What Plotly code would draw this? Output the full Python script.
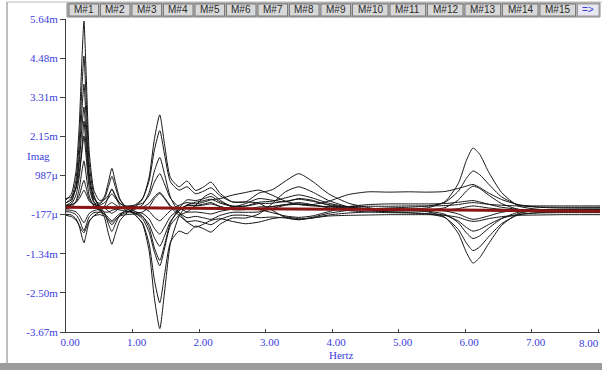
import plotly.graph_objects as go

# Frequency grid (Hz) shared by all response curves
freq = [0.00, 0.08, 0.15, 0.20, 0.24, 0.27, 0.30, 0.35, 0.42, 0.50,
        0.58, 0.64, 0.69, 0.74, 0.81, 0.90, 1.02, 1.15, 1.25, 1.33,
        1.41, 1.48, 1.57, 1.70, 1.82, 1.95, 2.08, 2.18, 2.32, 2.50,
        2.70, 2.90, 3.10, 3.30, 3.50, 3.70, 3.95, 4.25, 4.55, 4.85,
        5.15, 5.45, 5.70, 5.90, 6.02, 6.12, 6.22, 6.35, 6.55, 6.80,
        7.10, 7.45, 7.75, 8.03]

# Imaginary part of each measured FRF, in units of 1e-3
resp_01 = [0.26, 0.43, 1.10, 2.50, 4.46, 5.58, 4.18, 1.66, 0.54, 0.25,
           0.27, 0.40, 0.58, 0.40, 0.16, 0.04, -0.14, -0.45, -1.26, -2.68,
           -3.57, -2.51, -1.04, -0.23, 0.11, 0.19, 0.24, 0.28, 0.16, 0.07,
           0.07, 0.15, 0.16, 0.22, 0.28, 0.22, 0.12, 0.04, 0.00, -0.02,
           -0.05, -0.10, -0.26, -0.74, -1.30, -1.62, -1.46, -1.06, -0.50, -0.15,
           -0.05, -0.03, -0.02, -0.02]
resp_02 = [0.17, 0.31, 0.86, 2.01, 3.62, 4.54, 3.39, 1.32, 0.40, 0.04,
           -0.27, -0.76, -1.06, -0.76, -0.36, -0.16, 0.01, 0.28, 0.94, 2.08,
           2.79, 1.94, 0.92, 0.65, 0.82, 0.54, 0.66, 0.79, 0.45, 0.20,
           0.20, 0.46, 0.56, 0.82, 1.04, 0.82, 0.44, 0.16, 0.03, -0.06,
           -0.02, 0.03, 0.21, 0.75, 1.43, 1.80, 1.62, 1.11, 0.48, 0.08,
           -0.02, -0.05, -0.06, -0.06]
resp_03 = [0.09, 0.20, 0.66, 1.61, 2.94, 3.70, 2.75, 1.04, 0.28, 0.16,
           0.37, 0.81, 1.20, 0.81, 0.29, 0.03, -0.16, -0.42, -1.05, -2.13,
           -2.80, -1.99, -1.00, -0.67, -0.75, -0.52, -0.61, -0.70, -0.46, -0.28,
           -0.28, -0.16, 0.15, 0.50, 0.65, 0.50, 0.24, 0.05, -0.04, -0.10,
           -0.12, -0.16, -0.27, -0.62, -1.02, -1.25, -1.14, -0.85, -0.45, -0.19,
           -0.12, -0.10, -0.10, -0.10]
resp_04 = [0.17, 0.26, 0.62, 1.37, 2.42, 3.02, 2.27, 0.92, 0.32, 0.08,
           -0.13, -0.47, -0.68, -0.47, -0.19, -0.05, 0.08, 0.30, 0.83, 1.75,
           2.32, 1.63, 0.80, 0.55, 0.65, 0.44, 0.53, 0.62, 0.38, 0.20,
           0.20, 0.16, -0.05, -0.26, -0.33, -0.26, -0.14, -0.05, -0.01, 0.02,
           0.04, 0.08, 0.19, 0.52, 0.90, 1.12, 1.01, 0.74, 0.35, 0.11,
           0.04, 0.02, 0.02, 0.02]
resp_05 = [0.07, 0.14, 0.40, 0.95, 1.72, 2.16, 1.61, 0.62, 0.18, 0.13,
           0.30, 0.66, 0.96, 0.66, 0.26, 0.06, -0.06, -0.22, -0.57, -1.17,
           -1.54, -1.09, -0.43, 0.01, 0.26, 0.24, 0.30, 0.36, 0.20, 0.08,
           0.08, 0.19, 0.22, 0.32, 0.41, 0.32, 0.16, 0.05, 0.00, -0.04,
           -0.06, -0.08, -0.17, -0.42, -0.72, -0.89, -0.81, -0.59, -0.30, -0.11,
           -0.06, -0.04, -0.04, -0.04]
resp_06 = [0.00, 0.04, 0.22, 0.60, 1.12, 1.42, 1.05, 0.37, 0.07, -0.05,
           -0.17, -0.36, -0.48, -0.36, -0.20, -0.12, -0.03, 0.11, 0.48, 1.12,
           1.52, 1.04, 0.34, -0.12, -0.38, -0.36, -0.42, -0.48, -0.32, -0.20,
           -0.20, -0.27, -0.25, -0.28, -0.33, -0.28, -0.19, -0.13, -0.10, -0.08,
           -0.07, -0.04, 0.03, 0.26, 0.52, 0.67, 0.60, 0.41, 0.15, -0.02,
           -0.07, -0.08, -0.08, -0.08]
resp_07 = [-0.17, -0.19, -0.30, -0.53, -0.84, -1.02, -0.80, -0.39, -0.21, -0.10,
           0.07, 0.37, 0.58, 0.37, 0.09, -0.05, -0.13, -0.24, -0.47, -0.87,
           -1.12, -0.82, -0.38, -0.07, 0.11, 0.09, 0.14, 0.18, 0.06, -0.03,
           -0.03, 0.05, 0.06, 0.12, 0.18, 0.12, 0.02, -0.06, -0.10, -0.12,
           -0.13, -0.15, -0.20, -0.37, -0.56, -0.67, -0.62, -0.48, -0.29, -0.17,
           -0.13, -0.12, -0.12, -0.12]
resp_08 = [0.08, 0.10, 0.20, 0.40, 0.68, 0.84, 0.64, 0.28, 0.12, 0.10,
           0.18, 0.32, 0.44, 0.32, 0.16, 0.08, 0.10, 0.16, 0.39, 0.79,
           1.04, 0.74, 0.31, 0.04, -0.10, -0.10, -0.13, -0.16, -0.08, -0.02,
           -0.02, -0.01, 0.06, 0.12, 0.14, 0.12, 0.22, 0.42, 0.50, 0.49,
           0.50, 0.49, 0.51, 0.60, 0.67, 0.72, 0.63, 0.47, 0.27, 0.12,
           0.05, 0.04, 0.04, 0.04]
resp_09 = [-0.09, -0.11, -0.18, -0.33, -0.54, -0.66, -0.51, -0.24, -0.12, -0.11,
           -0.16, -0.27, -0.36, -0.27, -0.15, -0.09, -0.10, -0.14, -0.31, -0.59,
           -0.76, -0.55, -0.24, -0.03, 0.09, 0.08, 0.11, 0.14, 0.06, 0.00,
           0.00, -0.03, -0.12, -0.22, -0.26, -0.22, -0.09, 0.06, 0.12, 0.14,
           0.14, 0.14, 0.15, 0.19, 0.22, 0.24, 0.20, 0.13, 0.04, -0.02,
           -0.06, -0.06, -0.06, -0.06]
resp_10 = [-0.04, -0.05, -0.10, -0.20, -0.34, -0.42, -0.32, -0.14, -0.06, -0.02,
           0.03, 0.12, 0.18, 0.12, 0.04, 0.00, 0.01, 0.04, 0.16, 0.36,
           0.48, 0.33, 0.09, -0.12, -0.27, -0.23, -0.28, -0.32, -0.20, -0.11,
           -0.11, -0.10, 0.00, 0.10, 0.13, 0.10, 0.05, 0.01, -0.01, -0.02,
           -0.03, -0.04, -0.07, -0.16, -0.26, -0.32, -0.29, -0.22, -0.11, -0.04,
           -0.03, -0.02, -0.02, -0.02]
resp_11 = [0.10, 0.12, 0.18, 0.30, 0.45, 0.55, 0.44, 0.22, 0.12, 0.08,
           0.02, -0.08, -0.14, -0.08, 0.02, 0.06, 0.06, 0.02, -0.08, -0.26,
           -0.36, -0.24, -0.06, 0.10, 0.18, 0.14, 0.20, 0.26, 0.30, 0.40,
           0.48, 0.55, 0.40, 0.22, 0.12, 0.08, 0.06, 0.06, 0.07, 0.07,
           0.08, 0.08, 0.09, 0.12, 0.16, 0.18, 0.16, 0.13, 0.10, 0.08,
           0.08, 0.08, 0.08, 0.08]
resp_12 = [-0.20, -0.24, -0.34, -0.50, -0.66, -0.72, -0.60, -0.36, -0.22, -0.18,
           -0.22, -0.32, -0.40, -0.32, -0.22, -0.18, -0.16, -0.10, 0.05, 0.30,
           0.45, 0.30, 0.05, -0.20, -0.40, -0.55, -0.45, -0.35, -0.30, -0.38,
           -0.45, -0.40, -0.30, -0.25, -0.30, -0.28, -0.22, -0.20, -0.19, -0.18,
           -0.18, -0.18, -0.20, -0.26, -0.34, -0.38, -0.36, -0.30, -0.24, -0.20,
           -0.19, -0.18, -0.18, -0.18]
resp_13 = [0.30, 0.35, 0.60, 1.10, 1.80, 2.60, 1.90, 0.80, 0.20, -0.02,
           -0.10, -0.10, -0.05, -0.02, -0.04, -0.08, -0.12, -0.30, -0.70, -1.30,
           -1.70, -1.20, -0.50, -0.20, -0.10, 0.10, 0.35, 0.45, 0.25, 0.05,
           0.15, 0.30, 0.25, 0.20, 0.30, 0.25, 0.10, 0.00, -0.03, -0.05,
           -0.05, -0.05, -0.04, 0.00, 0.05, 0.08, 0.06, 0.02, -0.02, -0.04,
           -0.05, -0.05, -0.05, -0.05]

responses = [resp_01, resp_02, resp_03, resp_04, resp_05, resp_06, resp_07,
             resp_08, resp_09, resp_10, resp_11, resp_12, resp_13]

# Averaged curve
mean_freq = [0.0, 1.0, 2.0, 3.0, 4.0, 5.0, 6.0, 7.0, 8.03]
mean_imag = [0.04, 0.02, 0.0, -0.01, -0.02, -0.03, -0.05, -0.06, -0.08]

# Axis ticks
x_ticks = [0, 1, 2, 3, 4, 5, 6, 7, 8]
x_labels = ["0.00", "1.00", "2.00", "3.00", "4.00", "5.00", "6.00", "7.00", "8.00"]
y_ticks = [5.64, 4.48, 3.31, 2.15, 0.987, -0.177, -1.34, -2.50, -3.67]
y_labels = ["5.64m", "4.48m", "3.31m", "2.15m", "987\u00b5", "-177\u00b5",
            "-1.34m", "-2.50m", "-3.67m"]

# Mode selector bar
mode_labels = ["M#%d" % k for k in range(1, 16)]

W, H = 602, 370
ML, MR, MT, MB = 66, 2, 19, 38
PW, PH = W - ML - MR, H - MT - MB
BLUE = "#3c3cdc"
TICKFONT = dict(family="Liberation Serif", size=11, color=BLUE)


def px(xp):
    return (xp - ML) / PW


def py(yp):
    return (H - MB - yp) / PH


fig = go.Figure()
for r in responses:
    fig.add_trace(go.Scatter(x=freq, y=r, mode="lines",
                             line=dict(color="#151515", width=1, shape="spline", smoothing=0.6),
                             hoverinfo="skip", showlegend=False))
fig.add_trace(go.Scatter(x=mean_freq, y=mean_imag, mode="lines",
                         line=dict(color="#8a1515", width=3),
                         hoverinfo="skip", showlegend=False))

shapes = []
annotations = []

# window frame
shapes.append(dict(type="line", xref="paper", yref="paper",
                   x0=px(7), x1=px(7), y0=py(363), y1=py(2),
                   line=dict(color="#a8a8a8", width=1.5), layer="below"))
shapes.append(dict(type="line", xref="paper", yref="paper",
                   x0=px(7), x1=px(602), y0=py(2), y1=py(2),
                   line=dict(color="#b8b8b8", width=1), layer="below"))
shapes.append(dict(type="rect", xref="paper", yref="paper",
                   x0=px(0), x1=px(602), y0=py(370), y1=py(363),
                   line=dict(width=0), fillcolor="#9c9c9c", layer="below"))

# mode selector bar
bar_x0, bar_x1, bar_y0, bar_y1 = 67, 600, 3, 17
shapes.append(dict(type="rect", xref="paper", yref="paper",
                   x0=px(bar_x0), x1=px(bar_x1), y0=py(bar_y1), y1=py(bar_y0),
                   line=dict(color="#8a8a8a", width=1), fillcolor="#b4b4b4"))
widths = [31.5] * 9 + [37.5] * 6
xc = 68
for lab, w in zip(mode_labels, widths):
    shapes.append(dict(type="rect", xref="paper", yref="paper",
                       x0=px(xc + 1), x1=px(xc + w - 1), y0=py(bar_y1 - 1), y1=py(bar_y0 + 1),
                       line=dict(color="#7a7a7a", width=1), fillcolor="#d8d8d8"))
    annotations.append(dict(x=px(xc + w / 2), y=py(10), xref="paper", yref="paper",
                            text=lab, showarrow=False, xanchor="center", yanchor="middle",
                            font=dict(family="Liberation Sans", size=10, color="#2a2a2a")))
    xc += w
shapes.append(dict(type="rect", xref="paper", yref="paper",
                   x0=px(xc + 1), x1=px(bar_x1 - 1), y0=py(bar_y1 - 1), y1=py(bar_y0 + 1),
                   line=dict(color="#9a9a9a", width=1), fillcolor="#e8e8f4"))
annotations.append(dict(x=px((xc + bar_x1) / 2), y=py(10), xref="paper", yref="paper",
                        text="=>", showarrow=False, xanchor="center", yanchor="middle",
                        font=dict(family="Liberation Sans", size=10, color=BLUE)))

# last x label sits against the right edge
annotations.append(dict(x=x_ticks[-1], y=0, xref="x", yref="paper", text=x_labels[-1],
                        showarrow=False, xanchor="right", yanchor="top", xshift=3, yshift=-3,
                        font=TICKFONT))

# axis titles
annotations.append(dict(x=px(341), y=py(355), xref="paper", yref="paper", text="Hertz",
                        showarrow=False, xanchor="center", yanchor="middle",
                        font=dict(family="Liberation Serif", size=11, color=BLUE)))
annotations.append(dict(x=px(38), y=py(156), xref="paper", yref="paper", text="Imag",
                        showarrow=False, xanchor="center", yanchor="middle",
                        font=dict(family="Liberation Serif", size=11, color=BLUE)))

fig.update_layout(
    width=W, height=H,
    margin=dict(l=ML, r=MR, t=MT, b=MB),
    paper_bgcolor="white", plot_bgcolor="white",
    shapes=shapes, annotations=annotations,
    xaxis=dict(range=[0, 8.03], tickvals=x_ticks, ticktext=x_labels[:-1] + [""],
               showgrid=False, zeroline=False, showline=True, linecolor="#404040", linewidth=1,
               ticks="inside", ticklen=3, tickcolor="#404040", ticklabelshift=4,
               tickfont=TICKFONT),
    yaxis=dict(range=[-3.67, 5.64], tickvals=y_ticks, ticktext=y_labels,
               showgrid=False, zeroline=False, showline=True, linecolor="#404040", linewidth=1,
               ticks="outside", ticklen=5, tickcolor="#404040",
               tickfont=TICKFONT),
)

fig.write_html("out.html")
